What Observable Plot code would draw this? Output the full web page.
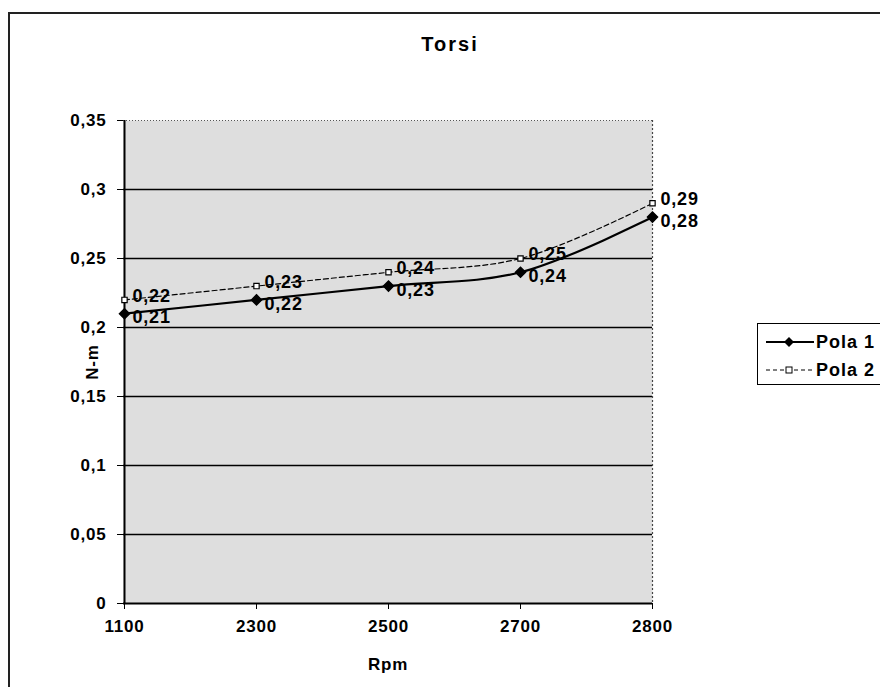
<!DOCTYPE html>
<html><head><meta charset="utf-8">
<script src="https://cdn.jsdelivr.net/npm/d3@7"></script>
<script src="https://cdn.jsdelivr.net/npm/@observablehq/plot@0.6"></script>
<style>
body{margin:0;background:#fff;font-family:"Liberation Sans",Arial,sans-serif;}
#wrap{position:relative;width:880px;height:687px;overflow:hidden}
#border{position:absolute;left:8px;top:12px;width:900px;height:720px;border-left:2px solid #222;border-top:2px solid #222}
#title{position:absolute;left:0;width:900px;top:33px;text-align:center;font-weight:bold;font-size:20px;letter-spacing:2px}
#chart{position:absolute;left:0;top:0}
#chart svg text{letter-spacing:0.8px}
#legend{position:absolute;left:757px;top:323px;width:140px;height:60px;border:1.5px solid #000;background:#fff;font-weight:bold;font-size:18px;letter-spacing:1px}
#legend .row{position:absolute;left:6px;height:22px;display:flex;align-items:center;gap:2px}
</style></head><body><div id="wrap"><div id="border"></div><div id="chart"></div><div id="title">Torsi</div><div id="legend"></div></div>
<script>
const rpm = ["1100", "2300", "2500", "2700", "2800"];
const pola1 = [0.21, 0.22, 0.23, 0.24, 0.28];
const pola2 = [0.22, 0.23, 0.24, 0.25, 0.29];
const yTicks = [0, 0.05, 0.1, 0.15, 0.2, 0.25, 0.3, 0.35];
const seriesNames = ["Pola 1", "Pola 2"];

const d1 = rpm.map((r, i) => ({rpm: r, v: pola1[i], s: seriesNames[0]}));
const d2 = rpm.map((r, i) => ({rpm: r, v: pola2[i], s: seriesNames[1]}));
const fmt = d => String(d).replace(".", ",");
const font = {fontWeight: "bold"};

const chart = Plot.plot({
  width: 880, height: 687,
  marginLeft: 123, marginRight: 228, marginTop: 120, marginBottom: 84,
  style: {fontFamily: "'Liberation Sans', Arial, sans-serif", background: "transparent", overflow: "visible"},
  x: {type: "point", domain: rpm, padding: 0},
  y: {domain: [0, 0.35]},
  marks: [
    Plot.frame({fill: "#dedede", stroke: null}),
    Plot.ruleY(yTicks.filter(d => d > 0 && d < 0.35), {stroke: "#000", strokeWidth: 1.6}),
    Plot.ruleY([yTicks[yTicks.length - 1]], {stroke: "#555", strokeWidth: 1, strokeDasharray: "1,2"}),
    Plot.ruleX([rpm[rpm.length - 1]], {stroke: "#444", strokeWidth: 1.2, strokeDasharray: "2,2"}),
    Plot.ruleX([rpm[0]], {stroke: "#000", strokeWidth: 2}),
    Plot.ruleY([0], {stroke: "#000", strokeWidth: 2}),
    Plot.axisY({ticks: yTicks, tickFormat: fmt, tickSize: 6, tickPadding: 11, ...font, fontSize: 17,
      label: "N-m", labelAnchor: "center", labelArrow: "none", labelOffset: 38}),
    Plot.axisX({tickSize: 6, tickPadding: 10, ...font, fontSize: 17,
      label: "Rpm", labelAnchor: "center", labelArrow: "none", labelOffset: 66}),
    Plot.line(d2, {x: "rpm", y: "v", curve: "catmull-rom", stroke: "#000", strokeWidth: 1.2, strokeDasharray: "5,3"}),
    Plot.line(d1, {x: "rpm", y: "v", curve: "catmull-rom", stroke: "#000", strokeWidth: 2.2}),
    Plot.dot(d2, {x: "rpm", y: "v", symbol: "square", r: 3, fill: "#fff", stroke: "#000", strokeWidth: 1.2}),
    Plot.dot(d1, {x: "rpm", y: "v", symbol: "diamond2", r: 4.5, fill: "#000", stroke: "#000"}),
    Plot.text(d2, {x: "rpm", y: "v", text: d => fmt(d.v), textAnchor: "start", dx: 8, dy: -4, ...font, fontSize: 18, fill: "#000"}),
    Plot.text(d1, {x: "rpm", y: "v", text: d => fmt(d.v), textAnchor: "start", dx: 8, dy: 4, ...font, fontSize: 18, fill: "#000"})
  ]
});
document.getElementById("chart").appendChild(chart);

const leg = document.getElementById("legend");
seriesNames.forEach((name, i) => {
  const row = document.createElement("div");
  row.className = "row";
  row.style.top = (i === 0 ? 7 : 35) + "px";
  const glyph = i === 0
    ? `<svg width="50" height="12"><line x1="2" x2="50" y1="6" y2="6" stroke="#000" stroke-width="2"/><path d="M25 1 L30 6 L25 11 L20 6 Z" fill="#000"/></svg>`
    : `<svg width="50" height="12"><line x1="2" x2="50" y1="6" y2="6" stroke="#000" stroke-width="1" stroke-dasharray="4,3"/><rect x="22" y="3" width="6" height="6" fill="#fff" stroke="#000"/></svg>`;
  row.innerHTML = glyph + `<span>${name}</span>`;
  leg.appendChild(row);
});
</script></body></html>
